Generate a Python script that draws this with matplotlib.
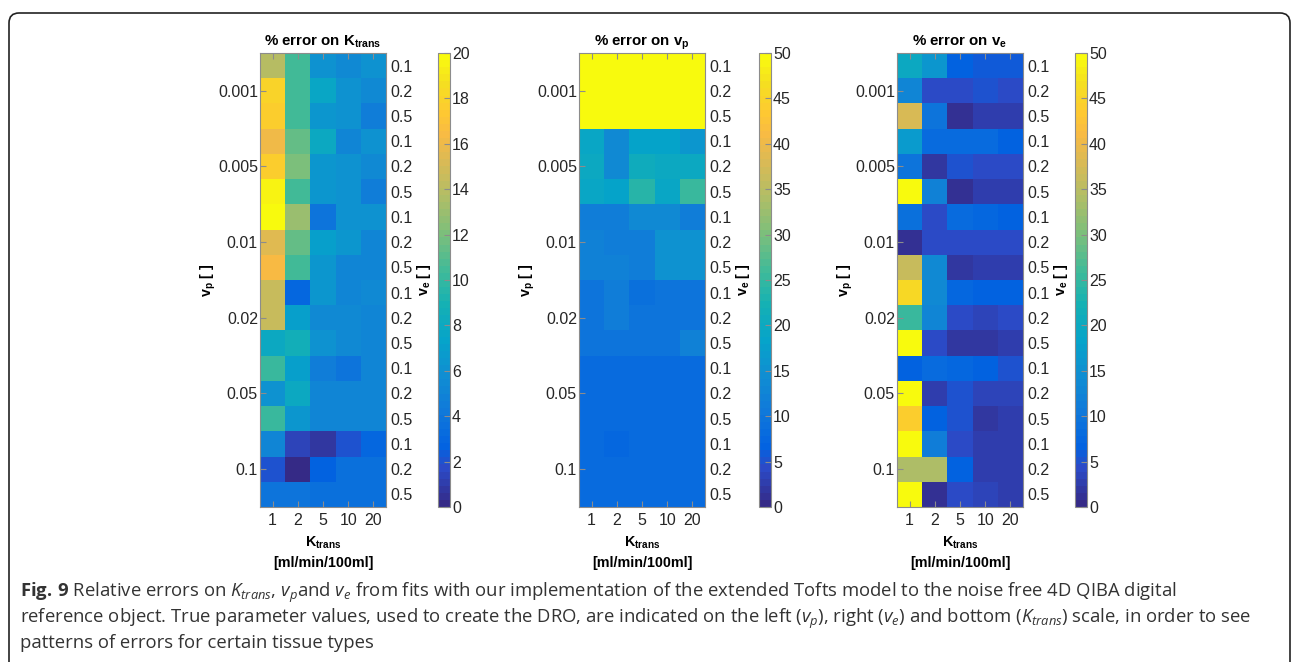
import numpy as np
import matplotlib
matplotlib.use("Agg")
import matplotlib.pyplot as plt
from matplotlib.colors import LinearSegmentedColormap
from matplotlib.patches import FancyBboxPatch
from matplotlib.transforms import IdentityTransform

# ---- data ----
ktrans_vals = ["1", "2", "5", "10", "20"]
vp_vals = ["0.001", "0.005", "0.01", "0.02", "0.05", "0.1"]
ve_vals = ["0.1", "0.2", "0.5"] * 6

# % error on Ktrans, rows = (vp, ve) pairs, cols = Ktrans
err_ktrans = [
    [14.0, 10.5, 6.0, 5.5, 6.0],
    [18.0, 10.5, 7.5, 6.0, 5.5],
    [17.5, 10.5, 6.5, 6.0, 4.5],
    [16.0, 11.5, 8.0, 5.0, 6.0],
    [17.5, 12.0, 6.5, 6.0, 5.5],
    [19.5, 10.5, 6.5, 6.0, 4.5],
    [20.0, 13.0, 4.0, 6.0, 6.0],
    [15.5, 11.5, 7.0, 6.5, 5.0],
    [16.5, 10.5, 6.5, 5.0, 5.0],
    [14.5, 3.0, 6.5, 5.0, 5.5],
    [14.5, 7.0, 5.5, 5.5, 5.0],
    [8.0, 8.5, 6.0, 5.5, 5.0],
    [10.0, 7.0, 4.5, 4.0, 5.0],
    [6.0, 8.0, 5.0, 5.0, 5.0],
    [10.0, 6.5, 5.0, 5.0, 5.0],
    [5.0, 1.5, 0.7, 2.0, 3.0],
    [2.0, 0.3, 2.5, 3.5, 3.5],
    [4.0, 4.0, 3.5, 3.5, 3.5],
]

# % error on vp
err_vp = [
    [50, 50, 50, 50, 50],
    [50, 50, 50, 50, 50],
    [50, 50, 50, 50, 50],
    [19, 14, 18, 18, 16],
    [20, 14, 21, 20, 20],
    [19, 18, 24, 19, 25],
    [11, 11, 14, 14, 11],
    [12, 11, 11, 15, 15],
    [12, 12, 11, 15, 15],
    [10, 11, 9, 10, 10],
    [10, 11, 10, 10, 10],
    [10, 10, 10, 10, 12],
    [8, 8, 8.5, 8.5, 8.5],
    [8.5, 8, 8, 8, 8],
    [8, 8.5, 8, 8.5, 8],
    [8.5, 7.5, 8, 8, 8],
    [8, 8, 8, 8, 8],
    [8, 8, 8, 8, 8],
]

# % error on ve
err_ve = [
    [20, 16, 7, 6, 6],
    [13, 4, 4, 5, 4],
    [38, 10, 1, 2.5, 3],
    [17, 8, 8, 8, 7],
    [10, 2, 5, 4, 4],
    [50, 12, 1, 2.5, 3],
    [9, 4, 8, 7.5, 7],
    [1, 4, 4, 4, 4],
    [36, 14, 2, 3, 3],
    [46, 14, 7.5, 7, 7],
    [25, 13, 4.5, 3.5, 4],
    [50, 4.5, 2, 2, 2.5],
    [7, 8, 7.5, 7, 5],
    [50, 2.5, 5, 3.5, 3.5],
    [44, 7, 5, 2, 3],
    [50, 11, 4, 3, 3],
    [34, 34, 7, 3, 3],
    [50, 1, 4, 3.5, 2.5],
]

# parula-like colormap
parula_pts = [
    (0.2081, 0.1663, 0.5292), (0.1707, 0.2919, 0.7792), (0.0117, 0.3875, 0.8820),
    (0.0629, 0.4737, 0.8554), (0.0641, 0.5570, 0.8240), (0.0231, 0.6418, 0.7913),
    (0.0843, 0.6928, 0.7062), (0.2586, 0.7317, 0.5954), (0.4871, 0.7491, 0.4840),
    (0.6834, 0.7435, 0.4044), (0.8507, 0.7299, 0.3360), (0.9739, 0.7314, 0.2666),
    (0.9955, 0.7861, 0.1967), (0.9626, 0.8705, 0.1309), (0.9763, 0.9831, 0.0538),
]
parula_pos = [0, 5, 8, 13, 18, 23, 28, 33, 38, 43, 48, 52, 55, 59, 63]
parula = LinearSegmentedColormap.from_list(
    "parula", [(p / 63, c) for p, c in zip(parula_pos, parula_pts)], N=64)

plt.rcParams["font.family"] = ["Liberation Sans", "DejaVu Sans"]
plt.rcParams["mathtext.fontset"] = "custom"
plt.rcParams["mathtext.rm"] = "Open Sans"
plt.rcParams["mathtext.sf"] = "Liberation Sans:bold"   # panel labels
plt.rcParams["mathtext.bf"] = "Open Sans:bold"         # caption "Fig. 9"
plt.rcParams["mathtext.it"] = "Open Sans:italic"       # caption symbols

W, H = 1293, 662
fig = plt.figure(figsize=(W / 100, H / 100), dpi=100)

frame_col = "#8c8c8c"
txt_col = "#262626"

panels = [
    (err_ktrans, 20, 2, r"% error on $\mathsf{K_{trans}}$", 260, 438),
    (err_vp, 50, 5, r"% error on $\mathsf{v_{p}}$", 579, 759),
    (err_ve, 50, 5, r"% error on $\mathsf{v_{e}}$", 897, 1075),
]

top_px, bot_px = 53, 507
for data, vmax, step, title, x0, cbx in panels:
    ax = fig.add_axes([x0 / W, 1 - bot_px / H, 126 / W, (bot_px - top_px) / H])
    ax.imshow(np.array(data), cmap=parula, vmin=0, vmax=vmax,
              aspect="auto", interpolation="nearest")
    ax.set_xticks(range(5))
    ax.set_xticklabels(ktrans_vals)
    ax.set_yticks([1, 4, 7, 10, 13, 16])
    ax.set_yticklabels(vp_vals)
    ax.tick_params(direction="in", top=True, right=True, length=4,
                   labelsize=11.5, colors=frame_col, labelcolor=txt_col, pad=1.5)
    ax.tick_params(axis="x", pad=4)
    for s in ax.spines.values():
        s.set_color(frame_col)
        s.set_linewidth(0.8)
    ax.set_title(title, fontsize=10.8, fontweight="bold", color="black", pad=5)
    ax.set_xlabel(r"$\mathsf{K_{trans}}$" + "\n[ml/min/100ml]", fontsize=10.3,
                  fontweight="bold", color="black", labelpad=5, linespacing=1.5)
    ax.set_ylabel(r"$\mathsf{v_p}$ [ ]", fontsize=10.3, fontweight="bold",
                  color="black", labelpad=0)

    tw = ax.twinx()
    tw.set_ylim(ax.get_ylim())
    tw.set_yticks(range(18))
    tw.set_yticklabels(ve_vals)
    tw.tick_params(length=0, labelsize=11.5, labelcolor=txt_col, pad=3.5)
    for s in tw.spines.values():
        s.set_visible(False)
    tw.set_ylabel(r"$\mathsf{v_e}$ [ ]", fontsize=10.3, fontweight="bold",
                  color="black", labelpad=1.5)

    cax = fig.add_axes([cbx / W, 1 - bot_px / H, 12 / W, (bot_px - top_px) / H])
    cb = fig.colorbar(ax.images[0], cax=cax, ticks=np.arange(0, vmax + 1, step))
    cb.outline.set_edgecolor(frame_col)
    cb.outline.set_linewidth(0.8)
    cax.tick_params(direction="in", length=4, labelsize=11.5, colors=frame_col,
                    labelcolor=txt_col, pad=1.5)

# rounded frame around the figure and caption
frame = FancyBboxPatch((9, -30), 1281, H - 13 + 30,
                       boxstyle="round,pad=0,rounding_size=10",
                       transform=IdentityTransform(), fill=False,
                       edgecolor="#222222", linewidth=1.2)
fig.patches.append(frame)

# caption
caption = [
    r"$\mathbf{Fig.\,9}$ Relative errors on $K_{trans}$, $v_p$and $v_e$ from fits with our "
    "implementation of the extended Tofts model to the noise free 4D QIBA digital",
    "reference object. True parameter values, used to create the DRO, are indicated "
    "on the left ($v_p$), right ($v_e$) and bottom ($K_{trans}$) scale, in order to see",
    "patterns of errors for certain tissue types",
]
for line, ybase in zip(caption, [597, 623, 648]):
    fig.text(20 / W, 1 - ybase / H, line, fontsize=13.3, color="#333333",
             family=["Open Sans", "DejaVu Sans"], va="baseline")

fig.savefig("out.png", dpi=100)
